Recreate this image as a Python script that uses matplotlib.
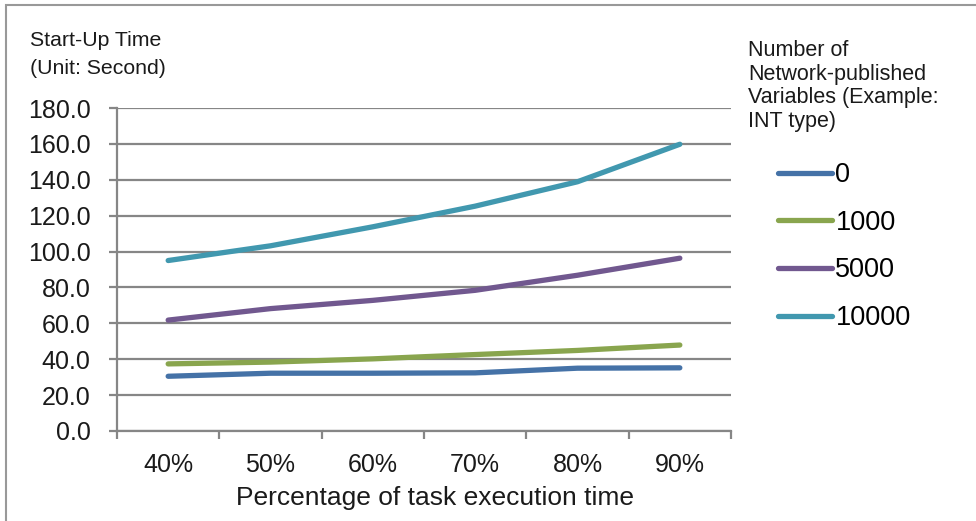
import numpy as np
import matplotlib.pyplot as plt
from matplotlib.patches import Rectangle

plt.rcParams['font.family'] = ['Liberation Sans', 'DejaVu Sans']

categories = ['40%', '50%', '60%', '70%', '80%', '90%']
series_names = ['0', '1000', '5000', '10000']
v0 = [30.5, 32.2, 32.2, 32.4, 35.0, 35.2]
v1000 = [37.4, 38.4, 40.2, 42.6, 44.9, 47.9]
v5000 = [61.8, 68.2, 72.8, 78.4, 86.8, 96.3]
v10000 = [95.0, 103.2, 113.8, 125.3, 138.9, 159.8]
colors = ['#4572A7', '#89A54E', '#71588F', '#4198AF']

W, H = 976, 521
fig = plt.figure(figsize=(W / 100, H / 100), dpi=100)
ax = fig.add_axes([117 / W, 1 - 431 / H, (731 - 117) / W, (431 - 108) / H])

x = np.arange(1, len(categories) + 1)
for vals, name, c in zip([v0, v1000, v5000, v10000], series_names, colors):
    ax.plot(x, vals, color=c, lw=3.8, solid_capstyle='round', label=name, zorder=3)

ax.set_xlim(0.5, len(categories) + 0.5)
ax.set_ylim(0, 180)
ax.set_yticks(np.arange(0, 181, 20))
ax.set_yticklabels(['%.1f' % v for v in np.arange(0, 181, 20)], fontsize=18, color='#1a1a1a')
ax.yaxis.grid(True, color='#868686', lw=1.6)
ax.set_axisbelow(True)

# category boundaries get the tick marks, names sit in between
ax.set_xticks(np.arange(0.5, len(categories) + 1, 1))
ax.set_xticklabels([])
ax.set_xticks(x, minor=True)
ax.set_xticklabels(categories, minor=True, fontsize=18, color='#1a1a1a')
ax.tick_params(axis='x', which='major', length=6, width=1.6, color='#868686', direction='out')
ax.tick_params(axis='x', which='minor', length=0, pad=16)
ax.tick_params(axis='y', length=6, width=1.6, color='#868686', pad=13)

for s in ['top', 'right']:
    ax.spines[s].set_visible(False)
for s in ['left', 'bottom']:
    ax.spines[s].set_color('#868686')
    ax.spines[s].set_linewidth(1.6)

fig.text(30 / W, 1 - 40 / H, 'Start-Up Time', fontsize=15.3, va='center', color='#1a1a1a')
fig.text(30 / W, 1 - 68 / H, '(Unit: Second)', fontsize=15.3, va='center', color='#1a1a1a')
fig.text(435 / W, 1 - 498 / H, 'Percentage of task execution time', fontsize=19,
         ha='center', va='center', color='#1a1a1a')

fig.text(748 / W, 1 - 86 / H, 'Number of\nNetwork-published\nVariables (Example:\nINT type)',
         fontsize=15.5, va='center', ha='left', linespacing=1.15, color='#1a1a1a')

ax.legend(loc='upper left', bbox_to_anchor=(778 / W, 1 - 162 / H), bbox_transform=fig.transFigure,
          frameon=False, fontsize=19.5, handlelength=2.0, handletextpad=0.12,
          labelspacing=0.8, borderpad=0, borderaxespad=0)

# outer frame (left and top edges only visible)
fig.patches.append(Rectangle((6 / W, -0.05), 1.2, 1 - 5 / H + 0.05, transform=fig.transFigure,
                             fill=False, edgecolor='#999999', lw=1.5, clip_on=False))

fig.savefig('out.png', dpi=100)
